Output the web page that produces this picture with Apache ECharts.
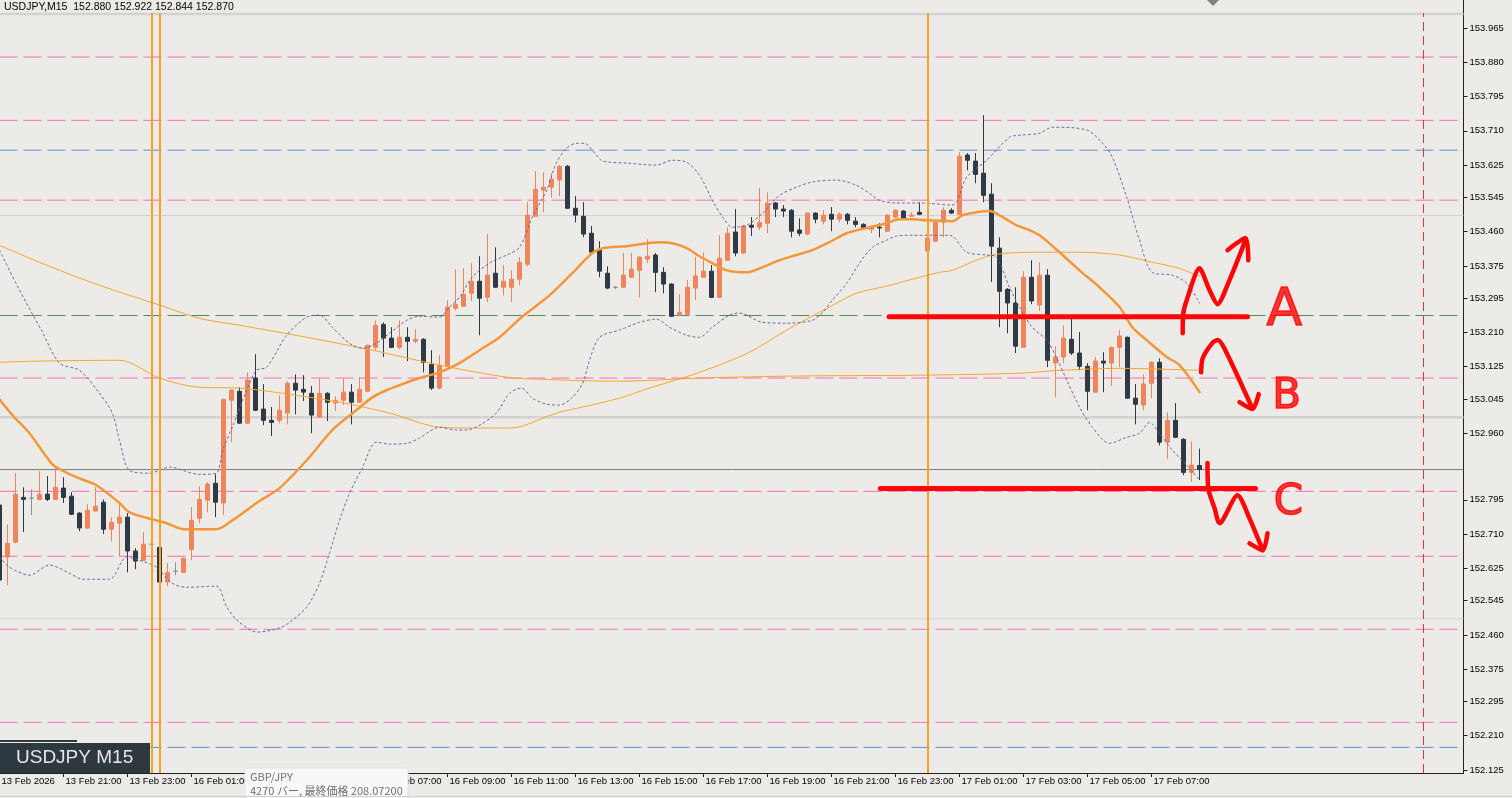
<!DOCTYPE html>
<html>
<head>
<meta charset="utf-8">
<script src="https://cdn.jsdelivr.net/npm/echarts@6/dist/echarts.min.js"></script>
<style>
html,body{margin:0;padding:0;background:#ecebe7;}
#c{width:1512px;height:798px;}
</style>
</head>
<body>
<div id="c"></div>
<script>
// ---------------- DATA ----------------
const symbolName = 'USDJPY,M15';
const open = [152.782,152.653,152.690,152.801,152.799,152.796,152.809,152.796,152.824,152.804,
152.762,152.725,152.767,152.789,152.722,152.737,152.752,152.668,152.645,152.685,
152.677,152.591,152.618,152.615,152.672,152.749,152.794,152.836,152.787,153.042,
153.064,152.985,153.097,153.020,152.992,152.992,153.010,153.084,153.069,153.059,
153.000,153.059,153.035,153.042,153.062,153.037,153.064,153.173,153.230,153.196,
153.173,153.198,153.188,153.193,153.131,153.072,153.126,153.270,153.275,153.307,
153.337,153.297,153.357,153.322,153.322,153.342,153.379,153.498,153.563,153.570,
153.588,153.622,153.518,153.498,153.456,153.414,153.357,153.322,153.322,153.347,
153.364,153.392,153.402,153.359,153.330,153.253,153.255,153.320,153.347,153.362,
153.297,153.389,153.459,153.407,153.476,153.471,153.481,153.531,153.516,153.513,
153.464,153.454,153.506,153.486,153.503,153.491,153.503,153.486,153.478,153.466,
153.471,153.461,153.496,153.511,153.498,153.508,153.412,153.436,153.483,153.513,
153.503,153.650,153.635,153.605,153.553,153.419,153.317,153.283,153.173,153.347,
153.278,153.352,153.134,153.149,153.193,153.159,153.126,153.062,153.139,153.134,
153.173,153.198,153.047,153.030,153.084,153.136,152.938,152.992,152.945,152.863,
152.880];
const high = [152.801,152.734,152.861,152.826,152.821,152.866,152.854,152.878,152.851,152.814,
152.764,152.784,152.826,152.796,152.752,152.782,152.762,152.675,152.715,152.722,
152.680,152.638,152.640,152.652,152.777,152.829,152.839,152.858,153.046,153.069,
153.074,153.111,153.156,153.082,153.025,153.054,153.089,153.106,153.104,153.077,
153.097,153.062,153.052,153.097,153.082,153.099,153.180,153.240,153.235,153.223,
153.240,153.223,153.218,153.196,153.166,153.154,153.290,153.367,153.369,153.382,
153.399,153.454,153.421,153.377,153.364,153.397,153.533,153.610,153.607,153.605,
153.625,153.625,153.548,153.533,153.474,153.436,153.374,153.325,153.407,153.407,
153.399,153.441,153.407,153.372,153.332,153.305,153.340,153.397,153.409,153.377,
153.451,153.471,153.516,153.476,153.496,153.568,153.558,153.533,153.526,153.516,
153.493,153.508,153.508,153.513,153.521,153.508,153.506,153.496,153.481,153.476,
153.481,153.503,153.516,153.513,153.508,153.533,153.446,153.486,153.521,153.518,
153.657,153.655,153.655,153.749,153.580,153.446,153.320,153.322,153.362,153.389,
153.384,153.367,153.176,153.228,153.248,153.211,153.134,153.149,153.161,153.175,
153.216,153.200,153.082,153.106,153.138,153.146,153.012,153.035,152.948,152.940,
152.922];
const low = [152.583,152.583,152.687,152.715,152.757,152.794,152.792,152.794,152.787,152.757,
152.717,152.722,152.767,152.710,152.692,152.655,152.615,152.623,152.643,152.663,
152.578,152.581,152.608,152.613,152.645,152.737,152.764,152.752,152.757,152.938,
152.983,152.983,153.015,152.980,152.953,152.985,152.982,153.007,153.040,152.960,
152.998,152.990,153.015,153.030,152.982,153.035,153.062,153.166,153.149,153.171,
153.168,153.139,153.183,153.111,153.067,153.069,153.124,153.265,153.273,153.288,
153.203,153.285,153.320,153.302,153.285,153.327,153.374,153.496,153.508,153.545,
153.548,153.516,153.483,153.446,153.407,153.347,153.317,153.317,153.320,153.345,
153.297,153.382,153.310,153.307,153.248,153.250,153.253,153.290,153.345,153.295,
153.295,153.387,153.399,153.404,153.449,153.464,153.456,153.496,153.496,153.446,
153.449,153.451,153.481,153.478,153.461,153.483,153.478,153.471,153.464,153.456,
153.446,153.459,153.493,153.491,153.496,153.501,153.409,153.434,153.446,153.504,
153.501,153.612,153.580,153.533,153.335,153.223,153.208,153.159,153.173,153.280,
153.263,153.124,153.049,153.134,153.154,153.116,153.017,153.062,153.062,153.077,
153.124,153.045,152.982,153.017,153.047,152.930,152.896,152.948,152.856,152.839,
152.844];
const close = [152.596,152.687,152.809,152.796,152.799,152.809,152.796,152.826,152.801,152.759,
152.725,152.769,152.779,152.722,152.739,152.752,152.668,152.643,152.685,152.685,
152.591,152.615,152.618,152.650,152.744,152.796,152.834,152.789,153.044,153.067,
152.985,153.092,153.017,152.992,152.987,153.017,153.084,153.067,153.062,153.005,
153.059,153.037,153.042,153.062,153.037,153.069,153.178,153.228,153.196,153.173,
153.198,153.188,153.193,153.136,153.072,153.129,153.273,153.280,153.305,153.337,
153.295,153.352,153.322,153.337,153.342,153.384,153.501,153.565,153.570,153.590,
153.622,153.518,153.501,153.454,153.409,153.362,153.320,153.322,153.352,153.367,
153.397,153.399,153.359,153.330,153.250,153.260,153.322,153.350,153.362,153.297,
153.394,153.456,153.407,153.474,153.471,153.483,153.531,153.516,153.511,153.461,
153.456,153.506,153.491,153.501,153.491,153.503,153.488,153.478,153.469,153.471,
153.469,153.501,153.513,153.493,153.501,153.503,153.444,153.483,153.513,153.506,
153.647,153.637,153.602,153.550,153.424,153.312,153.283,153.176,153.347,153.288,
153.352,153.141,153.149,153.196,153.159,153.126,153.064,153.139,153.134,153.173,
153.201,153.047,153.032,153.082,153.136,152.938,152.992,152.950,152.863,152.881,
152.870];

// indicator lines: [bar index, price]
const maMid = [[0,153.044],[1.6,153.005],[3.75,152.960],[5.9,152.901],[6.9,152.878],[9.6,152.851],[12.1,152.831],[15,152.787],[16.25,152.764],[19.6,152.744],[20.9,152.737],[23.1,152.722],[27.1,152.722],[29.1,152.744],[32.5,152.792],[35,152.824],[38.4,152.893],[41.6,152.968],[44.6,153.017],[46.6,153.049],[48.4,153.067],[50,153.079],[52.5,153.097],[55,153.111],[57.5,153.134],[60,153.166],[62.5,153.198],[65.4,153.250],[68.75,153.302],[71.6,153.357],[74.1,153.407],[75.4,153.419],[78.4,153.424],[82.5,153.434],[84.1,153.431],[85.9,153.419],[87.5,153.399],[89.1,153.382],[90.9,153.364],[93.4,153.359],[95.4,153.372],[97.5,153.389],[99.6,153.402],[101.6,153.414],[103.75,153.434],[105.9,153.456],[108.4,153.469],[110.9,153.481],[112.5,153.491],[114.1,153.491],[115.9,153.488],[119.1,153.486],[120.4,153.501],[122.1,153.508],[123.75,153.511],[125.4,153.496],[127.1,153.476],[128.75,153.464],[130,153.451],[132.5,153.409],[135,153.364],[137.5,153.322],[140,153.273],[141.6,153.223],[143.4,153.191],[145.9,153.149],[147.5,153.129],[150,153.062]];
const maMedium = [[0,153.136],[5,153.139],[15,153.141],[20,153.097],[25,153.074],[30,153.072],[35.4,153.059],[42.5,153.037],[48.75,153.010],[55,152.975],[59.1,152.973],[63.4,152.973],[65.4,152.978],[69.6,153.010],[72.9,153.025],[77.5,153.047],[81.25,153.072],[87.5,153.111],[93.75,153.161],[98.4,153.216],[103.75,153.273],[107.1,153.307],[110.9,153.325],[114.1,153.342],[117.5,153.359],[119.1,153.364],[122.1,153.389],[124.6,153.404],[129.6,153.409],[135,153.409],[140,153.402],[144.1,153.384],[147.5,153.369],[149.6,153.352],[150,153.350]];
const maLong = [[0,153.426],[5,153.384],[10,153.345],[15,153.310],[20,153.278],[25,153.245],[30,153.228],[38.4,153.198],[46.6,153.166],[55,153.129],[63.4,153.099],[67.5,153.094],[77.5,153.089],[87.5,153.097],[100,153.102],[115,153.104],[127.5,153.109],[132.5,153.116],[140,153.121],[150,153.116]];
const bbUpper = [[0,153.414],[2.5,153.315],[5.25,153.215],[7.5,153.134],[10,153.116],[12.5,153.059],[14.1,153.010],[15,152.943],[16.25,152.868],[18.75,152.861],[21.25,152.876],[25,152.858],[27.1,152.861],[27.9,152.918],[29.1,152.975],[30.9,153.067],[32.1,153.116],[33.4,153.124],[35.9,153.203],[38.4,153.248],[40,153.253],[41.6,153.223],[43.75,153.183],[45.4,153.171],[47.1,153.183],[48.75,153.208],[50.9,153.240],[52.5,153.250],[55,153.248],[56.25,153.273],[57.5,153.297],[59.1,153.347],[61.25,153.382],[63.4,153.402],[65,153.421],[66.6,153.496],[68.4,153.563],[69.6,153.630],[70.9,153.667],[72.1,153.679],[73.1,153.679],[74.6,153.650],[75.4,153.635],[78.4,153.630],[82.1,153.625],[84.1,153.637],[85.9,153.632],[87.5,153.600],[89.1,153.538],[90.4,153.496],[91.6,153.471],[93.4,153.476],[95.4,153.506],[97.5,153.550],[99.6,153.570],[101.6,153.583],[104.6,153.588],[107.1,153.575],[108.75,153.555],[110,153.538],[112.1,153.531],[115,153.531],[119.1,153.526],[120.9,153.595],[123.4,153.637],[126.25,153.694],[127.5,153.699],[130,153.704],[131.6,153.719],[135.9,153.712],[137.9,153.679],[139.1,153.645],[140.9,153.545],[142.5,153.439],[144.1,153.359],[146.6,153.352],[148.4,153.332],[150,153.283]];
const bbLower = [[0,152.653],[1.25,152.628],[3.75,152.608],[6.25,152.633],[8.75,152.613],[10.4,152.598],[13.75,152.598],[15.9,152.653],[17.5,152.645],[19.6,152.628],[21.6,152.588],[23.4,152.578],[27.1,152.581],[28.4,152.529],[30,152.491],[32.25,152.467],[35,152.477],[36.25,152.491],[38.4,152.529],[40,152.588],[41.25,152.663],[42.5,152.744],[43.75,152.811],[45.4,152.876],[47.1,152.938],[48.75,152.933],[50.9,152.935],[52.5,152.948],[55,152.975],[57.1,152.968],[58.4,152.968],[60,152.980],[62.1,153.010],[63.75,153.059],[65.25,153.072],[66.6,153.047],[68.4,153.032],[70,153.030],[71.6,153.049],[72.9,153.084],[73.75,153.141],[75,153.198],[77.5,153.216],[80,153.235],[82.1,153.243],[83.75,153.223],[85.9,153.203],[87.5,153.198],[89.1,153.223],[91.25,153.253],[92.5,153.258],[95.4,153.235],[98.4,153.233],[101.6,153.240],[102.9,153.260],[104.1,153.290],[105.9,153.332],[107.5,153.382],[109.1,153.421],[110.9,153.439],[112.1,153.449],[114.1,153.451],[118.75,153.451],[120.9,153.409],[123.4,153.402],[124.6,153.397],[126.25,153.322],[127.5,153.273],[129.1,153.223],[130.9,153.191],[132.1,153.149],[133.4,153.092],[135,153.025],[136.6,152.975],[138.75,152.935],[140.9,152.950],[142.5,152.960],[143.75,152.987],[145,152.960],[146.6,152.918],[148.4,152.881],[150,152.844]];

// horizontal / vertical objects
const pinkLevels = [153.893,153.736,153.538,153.097,152.816,152.655,152.474,152.243];
const blueLevels = [153.662,152.181];
const greenLevels = [153.252];
const roundLevels = [154.0,153.5,153.0,152.5];
const dayLines = [19,20,116];
const futureLine = 178;

// hand-drawn annotations: [bar index, price]
const lineA = [[111.2,153.249],[156,153.249]];
const lineC = [[110.1,152.823],[157,152.823]];
const strokeA = [[147.9,153.208],[147.95,153.253],[148.4,153.290],[150,153.369],[151.25,153.315],[152.25,153.280],[153.75,153.340],[155.75,153.439]];
const arrowA = [[153.5,153.414],[155.75,153.444],[156.1,153.389]];
const strokeB = [[150.2,153.111],[150.4,153.146],[151.7,153.186],[152.3,153.191],[153.3,153.163],[156.6,153.022]];
const arrowB = [[155,153.037],[156.6,153.020],[157.4,153.057]];
const strokeC = [[151,152.886],[151.1,152.823],[151.9,152.773],[152.5,152.737],[154.75,152.806],[156.25,152.749],[157.9,152.670]];
const arrowC = [[156.25,152.687],[157.9,152.670],[158.5,152.712]];
const letters = [[160.6,153.262,'A'],[160.9,153.049,'B'],[161.1,152.787,'C']];

// axes text
const yTickLabels = ['152.125','152.210','152.295','152.375','152.460','152.545','152.625','152.710','152.795','152.960','153.045','153.125','153.210','153.295','153.375','153.460','153.545','153.625','153.710','153.795','153.880','153.965'];
const xTickLabels = ['13 Feb 2026','13 Feb 21:00','13 Feb 23:00','16 Feb 01:00','16 Feb 03:00','16 Feb 05:00','16 Feb 07:00','16 Feb 09:00','16 Feb 11:00','16 Feb 13:00','16 Feb 15:00','16 Feb 17:00','16 Feb 19:00','16 Feb 21:00','16 Feb 23:00','17 Feb 01:00','17 Feb 03:00','17 Feb 05:00','17 Feb 07:00'];
const BARS_PER_LABEL = 8;
const SLOTS = 184;

// ---------------- CHART ----------------
const FONT = 'Liberation Sans';
const BULL = '#f0855b', BEAR = '#2e3943', DOJI = '#8b9095';
const chart = echarts.init(document.getElementById('c'));
const n = open.length;
const categories = Array.from({length: SLOTS}, (_, i) => String(i));
const candleData = open.map((o, i) => {
  const item = {value: [o, close[i], low[i], high[i]]};
  if (o === close[i]) item.itemStyle = {color: DOJI, color0: DOJI, borderColor: DOJI, borderColor0: DOJI};
  return item;
});
const fmt = v => v.toFixed(3);
const lastClose = close[n - 1];

// horizontal level lines as plain line series spanning the whole bar range
function hLevel(v, color, width, type) {
  return {type: 'line', xAxisIndex: 1, yAxisIndex: 0, data: [[0, v], [SLOTS - 1, v]],
    showSymbol: false, symbol: 'none', silent: true, z: 1, clip: true,
    lineStyle: {color: color, width: width, type: type}};
}
const levelSeries = [];
roundLevels.forEach(v => levelSeries.push(hLevel(v, '#d2d2d2', Number.isInteger(v) ? 2.5 : 1, 'solid')));
pinkLevels.forEach(v => levelSeries.push(hLevel(v, '#f46fb6', 1, [18, 6])));
blueLevels.forEach(v => levelSeries.push(hLevel(v, '#5b8ed6', 1, [18, 6])));
greenLevels.forEach(v => levelSeries.push(hLevel(v, '#4f8a5c', 1, [18, 6])));
levelSeries.push(hLevel(lastClose, '#7d7d7d', 1, 'solid'));

const vLineData = [];
dayLines.forEach(v => vLineData.push({xAxis: v, lineStyle: {color: '#f5a12c', width: 2, type: 'solid'}}));
vLineData.push({xAxis: futureLine, lineStyle: {color: '#e8353a', width: 1, type: [9, 5]}});
vLineData.push({yAxis: lastClose, lineStyle: {color: '#7d7d7d', width: 1, type: 'solid', opacity: 0},
  label: {show: true, position: 'end', distance: 3, formatter: () => fmt(lastClose), color: '#ffffff', backgroundColor: '#000000',
    padding: [2, 3, 1, 3], fontSize: 9.5, fontFamily: FONT}});

function lineSeries(data, color, width, type, z) {
  return {type: 'line', xAxisIndex: 1, yAxisIndex: 0, data: data, showSymbol: false, symbol: 'none',
    smooth: 0.3, silent: true, z: z, clip: true,
    lineStyle: {color: color, width: width, type: type, cap: 'round', join: 'round'}};
}
function redStroke(data, width) {
  return {type: 'line', xAxisIndex: 1, yAxisIndex: 0, data: data, showSymbol: false, symbol: 'none',
    smooth: 0.25, silent: true, z: 20, clip: false,
    lineStyle: {color: '#ff0606', width: width, cap: 'round', join: 'round'}};
}

const option = {
  animation: false,
  backgroundColor: '#ecebe7',
  grid: {left: -0.5, right: 48.5, top: 13, bottom: 25, containLabel: false, outerBoundsMode: 'none'},
  xAxis: [{
    type: 'category', data: categories, boundaryGap: false,
    axisLine: {show: true, onZero: false, lineStyle: {color: '#222', width: 1}},
    axisTick: {show: true, length: 4, lineStyle: {color: '#222'},
      interval: i => i % BARS_PER_LABEL === 0 && i / BARS_PER_LABEL < xTickLabels.length},
    axisLabel: {show: true, align: 'left', margin: 3, fontSize: 9.5, fontFamily: FONT, color: '#000',
      padding: [0, 0, 0, 2],
      interval: i => i % BARS_PER_LABEL === 0 && i / BARS_PER_LABEL < xTickLabels.length,
      formatter: (v, i) => xTickLabels[Math.round(Number(v) / BARS_PER_LABEL)] || ''},
    splitLine: {show: false}
  }, {
    type: 'value', min: 0, max: SLOTS - 1, show: false,
    axisLine: {show: false, onZero: false}, axisTick: {show: false}, axisLabel: {show: false}, splitLine: {show: false}
  }],
  yAxis: [{
    type: 'value', position: 'right', min: 152.1175, max: 154.0022, scale: true,
    axisLine: {show: true, onZero: false, lineStyle: {color: '#222', width: 1}},
    axisTick: {show: true, inside: false, length: 4, lineStyle: {color: '#222'}, customValues: yTickLabels.map(Number)},
    axisLabel: {show: true, inside: false, margin: 6, fontSize: 9.5, fontFamily: FONT, color: '#000',
      customValues: yTickLabels.map(Number), formatter: v => fmt(v)},
    splitLine: {show: false}, minorTick: {show: false}
  }],
  series: levelSeries.concat([
    {type: 'line', xAxisIndex: 0, yAxisIndex: 0, data: [], z: 1, silent: true, symbol: 'none',
      markLine: {symbol: 'none', silent: true, animation: false, label: {show: false}, data: vLineData}},
    {type: 'candlestick', xAxisIndex: 0, yAxisIndex: 0, data: candleData, barWidth: 4, z: 2, clip: true, silent: true,
      itemStyle: {color: BULL, color0: BEAR, borderColor: BULL, borderColor0: BEAR, borderWidth: 1}},
    lineSeries(maLong, '#f5a62e', 1, 'solid', 3),
    lineSeries(maMedium, '#f5a62e', 1, 'solid', 3),
    lineSeries(bbUpper, '#6c60a6', 1, [2, 3], 3),
    lineSeries(bbLower, '#6c60a6', 1, [2, 3], 3),
    lineSeries(maMid, '#f3983a', 2.5, 'solid', 4),
    redStroke(lineA, 5), redStroke(lineC, 5),
    redStroke(strokeA, 4.5), redStroke(arrowA, 4.5),
    redStroke(strokeB, 4.5), redStroke(arrowB, 4.5),
    redStroke(strokeC, 4.5), redStroke(arrowC, 4.5),
    {type: 'scatter', xAxisIndex: 1, yAxisIndex: 0, silent: true, z: 21, symbolSize: 2, clip: false,
      itemStyle: {color: 'rgba(0,0,0,0)'},
      data: letters.map((d, i) => ({value: d, label: {fontSize: i === 0 ? 52 : 42}})),
      label: {show: true, position: 'inside', formatter: p => p.value[2], color: '#ff0606',
        textBorderColor: '#ff0606', textBorderWidth: 1.5,
        fontFamily: 'DejaVu Sans', fontSize: 42}}
  ]),
  graphic: [
    {type: 'text', left: 4, top: 2, z: 100,
      style: {text: symbolName + '  ' + [open[n-1], high[n-1], low[n-1], close[n-1]].map(fmt).join(' '),
        fill: '#000', font: '10.5px "Liberation Sans"'}},
    {type: 'polygon', z: 100, shape: {points: [[1207, 0], [1219, 0], [1213, 6]]}, style: {fill: '#808080'}},
    {type: 'line', z: 100, shape: {x1: 1463.5, y1: 0, x2: 1463.5, y2: 13}, style: {stroke: '#222', lineWidth: 1}},
    {type: 'rect', z: 100, shape: {x: 0, y: 740, width: 77, height: 2}, style: {fill: '#2e3841'}},
    {type: 'rect', z: 100, shape: {x: 0, y: 743, width: 150, height: 30}, style: {fill: '#2e3841'}},
    {type: 'text', z: 101, x: 16, y: 748, style: {text: 'USDJPY M15', fill: '#e6e6e6', font: '19px "Liberation Sans"'}},
    {type: 'rect', z: 100, shape: {x: 245, y: 768, width: 163, height: 31, r: 2},
      style: {fill: '#f8f8f8', stroke: '#e2e2e2', lineWidth: 1}},
    {type: 'text', z: 101, x: 250, y: 771, style: {text: 'GBP/JPY', fill: '#707070', font: '11px "Noto Sans CJK JP"'}},
    {type: 'text', z: 101, x: 250, y: 785, style: {text: '4270 バー, 最終価格 208.07200', fill: '#707070', font: '11px "Noto Sans CJK JP"'}},
    {type: 'line', z: 100, shape: {x1: 0, y1: 796.5, x2: 1512, y2: 796.5}, style: {stroke: '#cfcfcf', lineWidth: 1}}
  ]
};
chart.setOption(option);
</script>
</body>
</html>
